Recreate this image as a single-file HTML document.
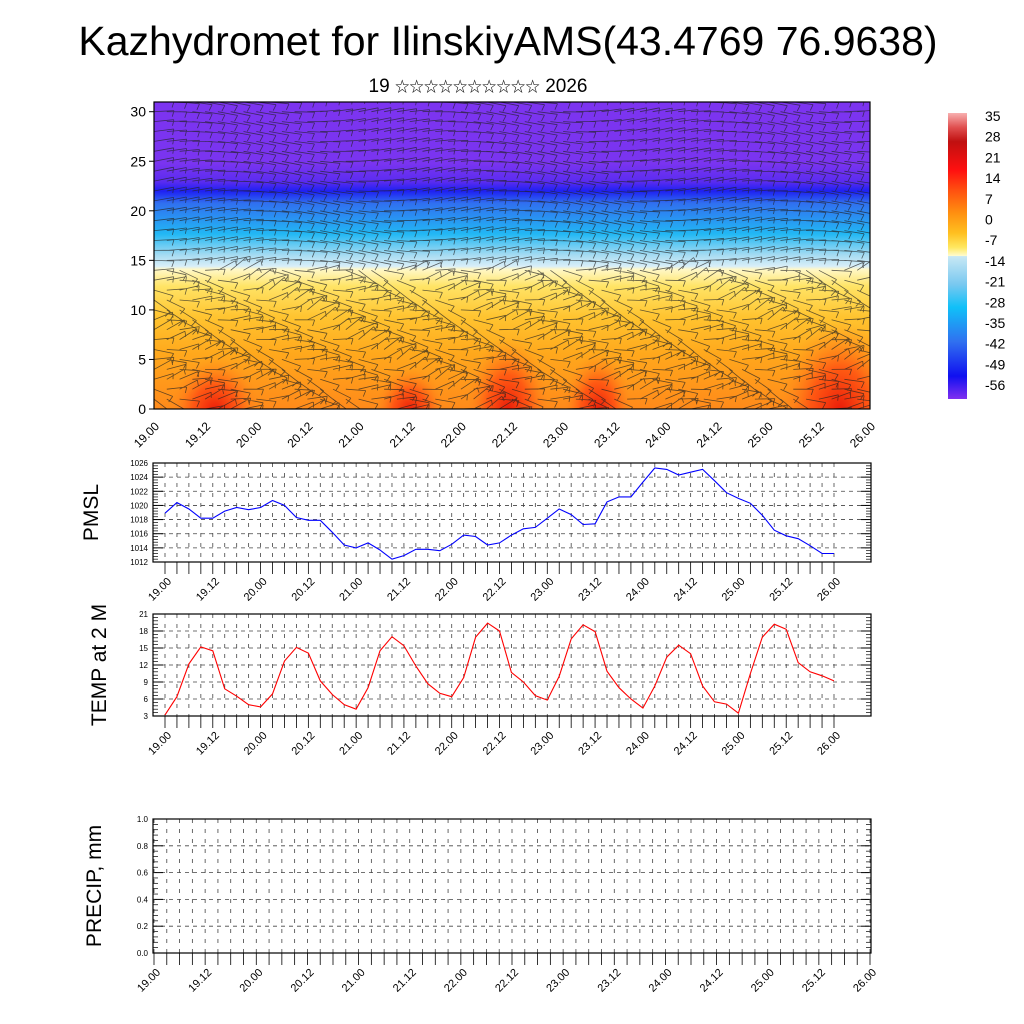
<!DOCTYPE html>
<html><head><meta charset="utf-8">
<style>
html,body{margin:0;padding:0;background:#fff;}
svg{display:block;font-family:"Liberation Sans","Noto Sans CJK SC",sans-serif;}
</style></head>
<body>
<svg id="chart" width="1024" height="1024" viewBox="0 0 1024 1024" xmlns="http://www.w3.org/2000/svg">
<defs>
<linearGradient id="vgrad" x1="0" y1="0" x2="0" y2="1">
<stop offset="0" stop-color="#7c34f0"/>
<stop offset="0.2" stop-color="#7a34f0"/>
<stop offset="0.26" stop-color="#5a2cf0"/>
<stop offset="0.29" stop-color="#1e20f2"/>
<stop offset="0.33" stop-color="#3070f0"/>
<stop offset="0.43" stop-color="#22b8f4"/>
<stop offset="0.5" stop-color="#a8dcf2"/>
<stop offset="0.535" stop-color="#d8eef8"/>
<stop offset="0.545" stop-color="#fff8c8"/>
<stop offset="0.6" stop-color="#ffe466"/>
<stop offset="0.7" stop-color="#ffc430"/>
<stop offset="0.82" stop-color="#ffa81c"/>
<stop offset="1" stop-color="#ff8a1a"/>
</linearGradient>
<radialGradient id="hot" cx="0.5" cy="0.5" r="0.5">
<stop offset="0" stop-color="#e81808" stop-opacity="1"/>
<stop offset="0.5" stop-color="#ff4010" stop-opacity="0.7"/>
<stop offset="1" stop-color="#ff8c1a" stop-opacity="0"/>
</radialGradient>
<linearGradient id="cbar" x1="0" y1="0" x2="0" y2="1">
<stop offset="0" stop-color="#f8b0b0"/>
<stop offset="0.05" stop-color="#e05050"/>
<stop offset="0.1" stop-color="#c01010"/>
<stop offset="0.2" stop-color="#ff1010"/>
<stop offset="0.27" stop-color="#ff5010"/>
<stop offset="0.35" stop-color="#ff9010"/>
<stop offset="0.42" stop-color="#ffc020"/>
<stop offset="0.47" stop-color="#ffe860"/>
<stop offset="0.5" stop-color="#fffcd0"/>
<stop offset="0.501" stop-color="#c8e8f4"/>
<stop offset="0.6" stop-color="#78c8f0"/>
<stop offset="0.68" stop-color="#10c0f8"/>
<stop offset="0.8" stop-color="#3070f0"/>
<stop offset="0.92" stop-color="#1010f0"/>
<stop offset="1" stop-color="#8030f0"/>
</linearGradient>
<clipPath id="topclip"><rect x="154" y="102" width="716" height="307"/></clipPath>
</defs>
<text x="508" y="55" font-size="41" text-anchor="middle">Kazhydromet for IlinskiyAMS(43.4769 76.9638)</text>
<text x="478" y="92" font-size="19" text-anchor="middle">19 <tspan font-size="14.5">☆☆☆☆☆☆☆☆☆☆</tspan> 2026</text>
<g id="top">
<g clip-path="url(#topclip)">
<rect x="154" y="102" width="716" height="307" fill="url(#vgrad)"/>
<ellipse cx="508" cy="412" rx="42" ry="75" fill="url(#hot)"/>
<ellipse cx="598" cy="412" rx="35" ry="60" fill="url(#hot)"/>
<ellipse cx="840" cy="412" rx="60" ry="90" fill="url(#hot)"/>
<ellipse cx="215" cy="412" rx="45" ry="55" fill="url(#hot)"/>
<ellipse cx="410" cy="412" rx="35" ry="45" fill="url(#hot)"/>
<g id="barbs" stroke="#222" stroke-width="0.8" fill="none" opacity="0.7"></g>
</g>
<rect x="154" y="102" width="716" height="307" fill="none" stroke="#000" stroke-width="1.2"/>
<g id="topaxes"></g>
</g>
<g>
<rect x="948" y="113" width="19" height="286" fill="url(#cbar)"/>
<g id="cbarlabels" font-size="14"></g>
</g>
<g id="pmsl"></g>
<g id="temp"></g>
<g id="precip"></g>
</svg>
<script>
const timeLabels=["19.00","19.12","20.00","20.12","21.00","21.12","22.00","22.12","23.00","23.12","24.00","24.12","25.00","25.12","26.00"];
const pmslValues=[1018.9,1020.4,1019.5,1018.2,1018.2,1019.2,1019.7,1019.4,1019.7,1020.7,1020.0,1018.3,1017.9,1017.9,1016.2,1014.4,1014.0,1014.7,1013.7,1012.4,1012.9,1013.8,1013.8,1013.6,1014.5,1015.8,1015.6,1014.4,1014.7,1015.8,1016.7,1016.9,1018.2,1019.5,1018.7,1017.3,1017.4,1020.5,1021.2,1021.2,1023.3,1025.3,1025.1,1024.3,1024.7,1025.1,1023.5,1021.8,1021.0,1020.3,1018.6,1016.5,1015.7,1015.3,1014.3,1013.2,1013.2];
const tempValues=[3.2,6.4,12.2,15.2,14.5,7.8,6.5,5.0,4.6,6.9,12.7,15.1,14.1,9.2,6.8,5.0,4.2,8.0,14.5,17.0,15.4,11.8,8.7,7.0,6.4,9.8,16.9,19.4,18.0,10.7,9.0,6.6,5.8,10.0,16.6,19.1,17.9,10.9,8.0,6.0,4.4,8.3,13.4,15.5,14.0,8.3,5.5,5.1,3.5,10.5,16.9,19.2,18.3,12.4,10.8,10.1,9.2];
const pmslTicks=[1012,1014,1016,1018,1020,1022,1024,1026];
const tempTicks=[3,6,9,12,15,18,21];
const precipTicks=[0.0,0.2,0.4,0.6,0.8,1.0];
const levelTicks=[0,5,10,15,20,25,30];
const colorbarLabels=["35","28","21","14","7","0","-7","-14","-21","-28","-35","-42","-49","-56"];

const NS="http://www.w3.org/2000/svg";
function mk(tag,attrs,parent,txt){const e=document.createElementNS(NS,tag);for(const k in attrs)e.setAttribute(k,attrs[k]);if(txt!==undefined)e.textContent=txt;parent.appendChild(e);return e;}

(function(){
  const g=document.getElementById('topaxes');
  const x0=154,x1=870,yb=409;
  const yS=v=>409-v*(409-111.7)/30;
  levelTicks.forEach(v=>{
    const t=mk('text',{x:146,y:yS(v)+5,'font-size':14,'text-anchor':'end'},g,String(v));
    
    
    mk('line',{x1:x0-5,x2:x0,y1:yS(v),y2:yS(v),stroke:'#000'},g);
  });
  timeLabels.forEach((l,i)=>{
    const x=x0+i*(x1-x0)/(timeLabels.length-1);
    const t=mk('text',{x:0,y:0,'font-size':12,'text-anchor':'end',transform:`translate(${x+6},${yb+18}) rotate(-45)`},g,l);
    
    
  });
  const b=document.getElementById('barbs');
  let d="";
  for(let r=0;r<=31;r++){
    for(let c=0;c<=56;c++){
      const x=x0+c*(x1-x0)/56, y=yS(r);
      let a;
      if(r>14) a=Math.sin(c*0.3+r*0.2)*0.2;
      else a=Math.sin(c*0.9+r*1.3)*0.45+Math.cos(c*0.37+r*0.5)*0.25;
      const L=20;
      const dx=Math.cos(a)*L, dy=Math.sin(a)*L;
      d+=`M${x.toFixed(1)},${y.toFixed(1)}l${dx.toFixed(1)},${dy.toFixed(1)}`;
      const bx=x+dx, by=y+dy;
      d+=`M${bx.toFixed(1)},${by.toFixed(1)}l${(-Math.sin(a)*6-Math.cos(a)*2).toFixed(1)},${(Math.cos(a)*6).toFixed(1)}`;
    }
  }
  mk('path',{d:d},b);
})();

(function(){
  const g=document.getElementById('cbarlabels');
  colorbarLabels.forEach((l,i)=>{
    const t=mk('text',{x:985,y:121+i*20.7},g,l);
    
    
  });
})();

function panel(id,top,bottom,ticks,fmt,series,color,ylabel,ylabelX,labelsEdge){
  const g=document.getElementById(id);
  const x0=153,x1=871;
  const lo=ticks[0],hi=ticks[ticks.length-1];
  const yS=v=>bottom-(v-lo)*(bottom-top)/(hi-lo);
  const tx0=labelsEdge?154:165, tx1=labelsEdge?870:834;
  const xS=i=>tx0+i*(tx1-tx0)/56;
  ticks.forEach((v,k)=>{
    if(k>0&&k<ticks.length-1){
      const l=mk('line',{x1:x0,x2:x1,y1:yS(v),y2:yS(v),stroke:'#444','stroke-dasharray':'4,4','stroke-width':0.8},g);
      
      
    }
    mk('line',{x1:x0,x2:x0+10,y1:yS(v),y2:yS(v),stroke:'#000'},g);
    mk('line',{x1:x1-10,x2:x1,y1:yS(v),y2:yS(v),stroke:'#000'},g);
    const t=mk('text',{x:x0-5,y:yS(v)+3,'font-size':8,'text-anchor':'end'},g,fmt(v));
    
    
    if(k<ticks.length-1){
      for(let m=1;m<5;m++){const yy=yS(v)+(yS(ticks[k+1])-yS(v))*m/5;
        mk('line',{x1:x0,x2:x0+5,y1:yy,y2:yy,stroke:'#000','stroke-width':0.7},g);
        mk('line',{x1:x1-5,x2:x1,y1:yy,y2:yy,stroke:'#000','stroke-width':0.7},g);}
    }
  });
  for(let i=0;i<=56;i++){
    const x=xS(i);
    mk('line',{x1:x,x2:x,y1:top,y2:bottom,stroke:'#444','stroke-dasharray':'4,6','stroke-width':0.8},g);
    mk('line',{x1:x,x2:x,y1:bottom,y2:bottom+12,stroke:'#000','stroke-width':0.8},g);
  }
  timeLabels.forEach((l,i)=>{
    const x=xS(i*4);
    const t=mk('text',{x:0,y:0,'font-size':11,'text-anchor':'end',transform:`translate(${x+7},${bottom+20}) rotate(-45)`},g,l);
    
    
  });
  const f=mk('rect',{x:x0,y:top,width:x1-x0,height:bottom-top,fill:'none',stroke:'#000','stroke-width':1.2},g);
  
  
  if(series){
    const p=mk('polyline',{points:series.map((v,i)=>xS(i).toFixed(1)+','+yS(v).toFixed(1)).join(' '),fill:'none',stroke:color,'stroke-width':1.1},g);
    
    
  }
  const yl=mk('text',{x:0,y:0,'font-size':21,'text-anchor':'middle',transform:`translate(${ylabelX},${(top+bottom)/2}) rotate(-90)`},g,ylabel);
  
  
}
panel('pmsl',463,562,pmslTicks,v=>String(v),pmslValues,'#0000ff','PMSL',98,false);
panel('temp',614,716,tempTicks,v=>String(v),tempValues,'#ff0000','TEMP at 2 M',106,false);
panel('precip',819,953,precipTicks,v=>v.toFixed(1),null,'#000','PRECIP, mm',101,true);
</script>
</body></html>
